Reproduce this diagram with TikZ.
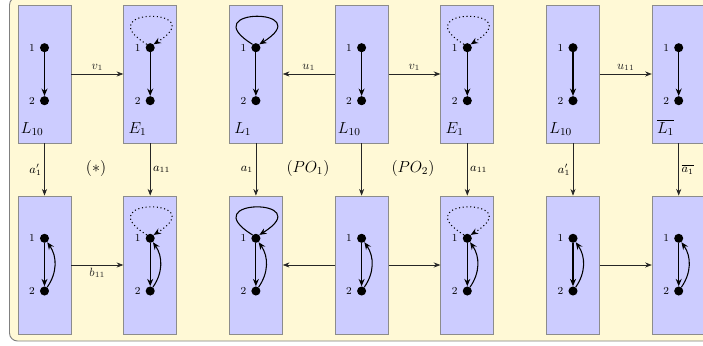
\documentclass[tikz,border=0pt]{standalone}
\usetikzlibrary{arrows.meta}
\definecolor{bgyellow}{RGB}{255,249,214}
\definecolor{boxblue}{RGB}{204,204,255}
\begin{document}
\begin{tikzpicture}[x=0.75pt,y=-0.75pt,
  graphbox/.style={draw=black!45,fill=boxblue,minimum width=53*0.75pt,minimum height=138*0.75pt,inner sep=0pt,line width=0.6pt},
  vtx/.style={circle,fill=black,inner sep=0pt,minimum size=6.8pt},
  vnum/.style={font=\footnotesize,inner sep=1pt},
  gname/.style={anchor=base west,inner sep=0pt,font=\large},
  gedge/.style={-{Stealth[length=5.5pt,width=4.5pt]},thick},
  conn/.style={-{Stealth[length=5pt,width=3.8pt]},line width=0.5pt,black!85},
  elab/.style={font=\small,inner sep=2pt},
  sq/.style={font=\large}
]
\useasboundingbox (0,0) rectangle (703,346);
\draw[draw=black!50,fill=bgyellow,rounded corners=6pt,line width=0.7pt] (9.5,-3) rectangle (730,341);

% boxes
\foreach \i/\nm in {0/A,1/B,2/C,3/D,4/E,5/F,6/G}{
  \pgfmathsetmacro{\cx}{44.5+105.7*\i}
  \node[graphbox] (\nm t) at (\cx,74) {};
  \node[graphbox] (\nm b) at (\cx,265) {};
  \node[vtx] (\nm t1) at (\cx,47.7) {};
  \node[vtx] (\nm t2) at (\cx,100.7) {};
  \node[vtx] (\nm b1) at (\cx,238.3) {};
  \node[vtx] (\nm b2) at (\cx,291) {};
  \node[vnum,anchor=east] (\nm t1l) at ([xshift=-2.5pt]\nm t1.west) {1};
  \node[vnum,anchor=east] (\nm t2l) at ([xshift=-2.5pt]\nm t2.west) {2};
  \node[vnum,anchor=east] (\nm b1l) at ([xshift=-2.5pt]\nm b1.west) {1};
  \node[vnum,anchor=east] (\nm b2l) at ([xshift=-2.5pt]\nm b2.west) {2};
  \draw[gedge] (\nm t1) -- (\nm t2);
  \draw[gedge] (\nm b1) -- (\nm b2);
  \draw[gedge] (\nm b2) to[bend right=35] (\nm b1);
  \draw[conn] (\nm t) -- (\nm b);
}

% names
\node[gname] (An) at ([shift={(3,-10)}]At.south west) {$L_{10}$};
\node[gname] (Bn) at ([shift={(5,-10)}]Bt.south west) {$E_1$};
\node[gname] (Cn) at ([shift={(5,-10)}]Ct.south west) {$L_1$};
\node[gname] (Dn) at ([shift={(3,-10)}]Dt.south west) {$L_{10}$};
\node[gname] (En) at ([shift={(5,-10)}]Et.south west) {$E_1$};
\node[gname] (Fn) at ([shift={(3,-10)}]Ft.south west) {$L_{10}$};
\node[gname] (Gn) at ([shift={(5,-10)}]Gt.south west) {$\overline{L_1}$};

% loops
\foreach \nm in {Bt1,Bb1,Et1,Eb1}{
  \draw[gedge,dotted] (\nm.135) .. controls +(-60,-37) and +(60,-37) .. (\nm.45);
}
\foreach \nm in {Ct1,Cb1}{
  \draw[gedge] (\nm.135) .. controls +(-60,-37) and +(60,-37) .. (\nm.45);
}

% horizontal connectors
\draw[conn] (At) -- node[elab,above] (lv1) {$v_1$} (Bt);
\draw[conn] (Dt) -- node[elab,above] (lu1) {$u_1$} (Ct);
\draw[conn] (Dt) -- node[elab,above] (lv1b) {$v_1$} (Et);
\draw[conn] (Ft) -- node[elab,above] (lu11) {$u_{11}$} (Gt);
\draw[conn] (Ab) -- node[elab,below] (lb11) {$b_{11}$} (Bb);
\draw[conn] (Db) -- (Cb);
\draw[conn] (Db) -- (Eb);
\draw[conn] (Fb) -- (Gb);

% vertical labels
\path (At) -- node[elab,left] (la1p) {$a'_1$} (Ab);
\path (Bt) -- node[elab,right] (la11) {$a_{11}$} (Bb);
\path (Ct) -- node[elab,left] (la1) {$a_1$} (Cb);
\path (Et) -- node[elab,right] (la11b) {$a_{11}$} (Eb);
\path (Ft) -- node[elab,left] (la1pb) {$a'_1$} (Fb);
\path (Gt) -- node[elab,right] (la1bar) {$\overline{a_1}$} (Gb);

% square labels
\node[sq] (s1) at (96,168) {$(*)$};
\node[sq] (s2) at (308,168) {$(PO_1)$};
\node[sq] (s3) at (413,168) {$(PO_2)$};
\end{tikzpicture}
\end{document}
